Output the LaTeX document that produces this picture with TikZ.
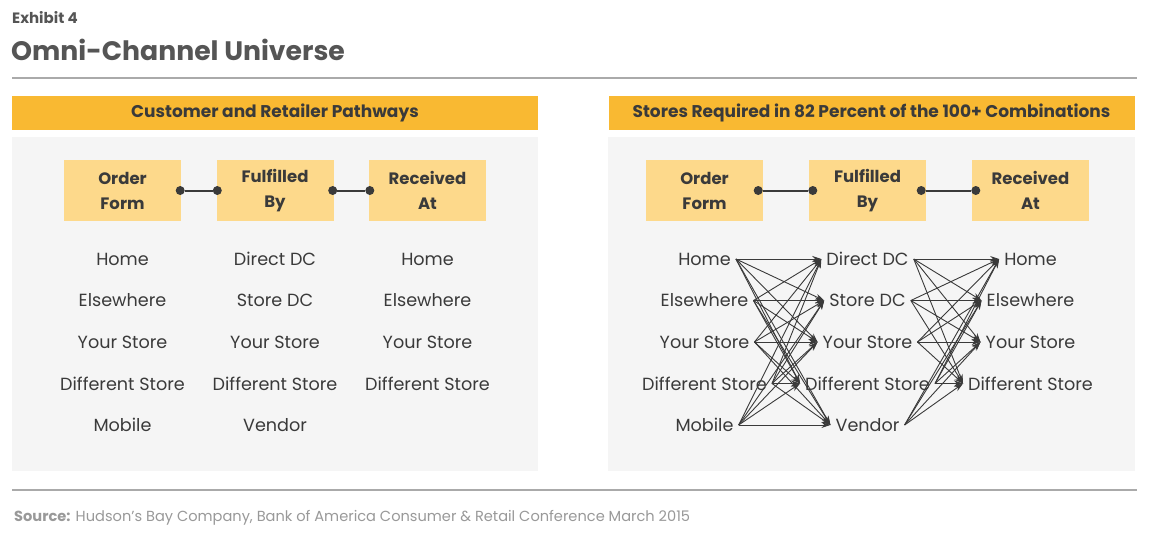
\documentclass[tikz,border=0pt]{standalone}
\usepackage{fontspec}
\setmainfont{Poppins}
\usetikzlibrary{arrows.meta}
\definecolor{hdrc}{HTML}{F9B932}
\definecolor{boxc}{HTML}{FDD98B}
\definecolor{panelc}{HTML}{F5F5F5}
\definecolor{darkc}{HTML}{3A3A3A}
\definecolor{titlec}{HTML}{555555}
\definecolor{rulec}{HTML}{AAAAAA}
\definecolor{srcc}{HTML}{999999}
\tikzset{
  hdr/.style={fill=hdrc, minimum width=526pt, minimum height=34pt, inner sep=0pt, text=darkc, font=\fontsize{17}{20}\selectfont\bfseries},
  panel/.style={fill=panelc, draw=none},
  cat/.style={fill=boxc, minimum width=117pt, minimum height=61pt, inner sep=0pt, align=center, text=darkc, font=\fontsize{16.5}{25}\selectfont\bfseries},
  item/.style={text=darkc, font=\fontsize{17.6}{20}\selectfont, inner xsep=5pt, inner ysep=2pt},
  dot/.style={circle, fill=darkc, inner sep=0pt, minimum size=9pt},
  conn/.style={darkc, line width=2pt},
  arr/.style={-{Stealth[length=9pt,width=6pt]}, darkc, line width=0.9pt},
}
\begin{document}
\begin{tikzpicture}[x=1pt,y=-1pt]
\useasboundingbox (0,0) rectangle (1150,539);
\fill[white] (0,0) rectangle (1150,539);
% title
\node[anchor=west, text=titlec, font=\fontsize{15}{17}\selectfont\bfseries, inner sep=0pt] (exh) at (12,18) {Exhibit 4};
\node[anchor=west, text=titlec, font=\fontsize{26.7}{30}\selectfont\bfseries, inner sep=0pt] (ttl) at (11,50) {Omni-Channel Universe};
\draw[rulec, line width=1.5pt] (12,78) -- (1137,78);
% panels
\fill[panel] (12,137) rectangle (538,471);
\fill[panel] (608,137) rectangle (1135,471);
\node[hdr] (h1) at (275,113) {Customer and Retailer Pathways};
\node[hdr] (h2) at (871.5,113) {Stores Required in 82 Percent of the 100+ Combinations};
% left panel
\node[cat] (lo) at (122.5,190.5) {Order\\Form};
\node[cat] (lf) at (275,190.5) {Fulfilled\\By};
\node[cat] (lr) at (427.5,190.5) {Received\\At};
\node[dot] (ld1) at ([xshift=-1pt]lo.east) {};
\node[dot] (ld2) at ([xshift=1pt]lf.west) {};
\node[dot] (ld3) at ([xshift=-1pt]lf.east) {};
\node[dot] (ld4) at ([xshift=1pt]lr.west) {};
\draw[conn] (ld1) -- (ld2);
\draw[conn] (ld3) -- (ld4);
\foreach \t [count=\i] in {Home,Elsewhere,Your Store,Different Store,Mobile}
  \node[item] (la\i) at (122.5,{259+41.5*(\i-1)}) {\t};
\foreach \t [count=\i] in {Direct DC,Store DC,Your Store,Different Store,Vendor}
  \node[item] (lb\i) at (275,{259+41.5*(\i-1)}) {\t};
\foreach \t [count=\i] in {Home,Elsewhere,Your Store,Different Store}
  \node[item] (lc\i) at (427.5,{259+41.5*(\i-1)}) {\t};
% right panel
\node[cat] (ro) at (704.5,190.5) {Order\\Form};
\node[cat] (rf) at (867.5,190.5) {Fulfilled\\By};
\node[cat] (rr) at (1030.5,190.5) {Received\\At};
\node[dot] (rd1) at ([xshift=-5pt]ro.east) {};
\node[dot] (rd2) at ([xshift=4pt]rf.west) {};
\node[dot] (rd3) at ([xshift=-5pt]rf.east) {};
\node[dot] (rd4) at ([xshift=4pt]rr.west) {};
\draw[conn] (rd1) -- (rd2);
\draw[conn] (rd3) -- (rd4);
\foreach \t [count=\i] in {Home,Elsewhere,Your Store,Different Store,Mobile}
  \node[item] (ra\i) at (704.5,{259+41.5*(\i-1)}) {\t};
\foreach \t [count=\i] in {Direct DC,Store DC,Your Store,Different Store,Vendor}
  \node[item] (rb\i) at (867.5,{259+41.5*(\i-1)}) {\t};
\foreach \t [count=\i] in {Home,Elsewhere,Your Store,Different Store}
  \node[item] (rc\i) at (1030.5,{259+41.5*(\i-1)}) {\t};
% arrows
\foreach \i in {1,...,5}
  \foreach \j in {1,...,5}
    \draw[arr] (ra\i.east) -- (rb\j.west);
\foreach \i in {1,...,5}
  \foreach \j in {1,...,4}
    \draw[arr] (rb\i.east) -- (rc\j.west);
% footer
\draw[rulec, line width=1.5pt] (12,490) -- (1137,490);
\node[anchor=west, text=srcc, font=\fontsize{14.6}{17}\selectfont, inner sep=0pt] (src) at (14,518) {\textbf{Source:} Hudson’s Bay Company, Bank of America Consumer \& Retail Conference March 2015};
\end{tikzpicture}
\end{document}
